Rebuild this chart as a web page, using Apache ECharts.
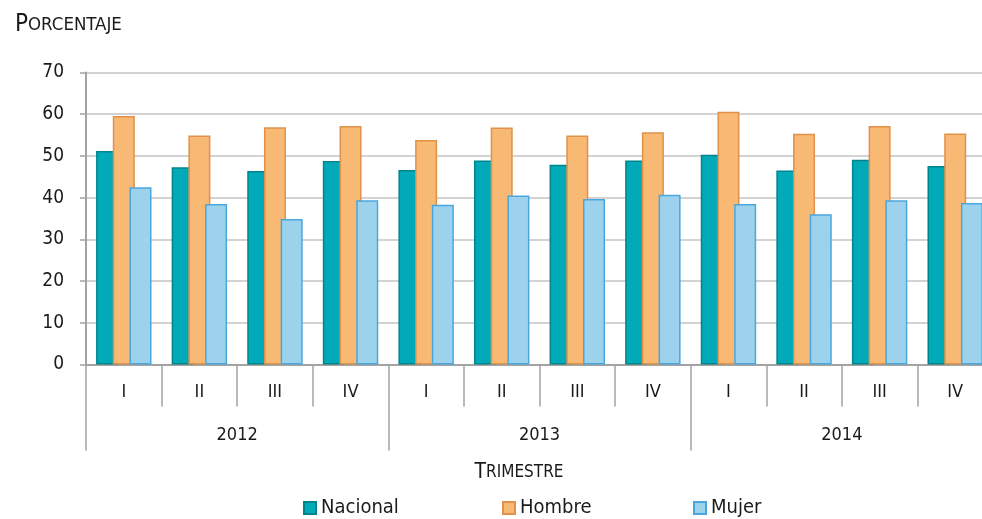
<!DOCTYPE html>
<html>
<head>
<meta charset="utf-8">
<script src="https://cdn.jsdelivr.net/npm/echarts@6/dist/echarts.min.js"></script>
<style>
  html, body { margin: 0; padding: 0; background: #fff; }
  #chart { width: 982px; height: 519px; }
</style>
</head>
<body>
<div id="chart"></div>
<script>
const quarters = ['I', 'II', 'III', 'IV', 'I', 'II', 'III', 'IV', 'I', 'II', 'III', 'IV']
const years = ['2012', '2013', '2014']
const nacional = [51.2, 47.3, 46.4, 48.8, 46.6, 48.9, 47.9, 48.9, 50.3, 46.5, 49.1, 47.6]
const hombre = [59.6, 54.9, 56.9, 57.2, 53.8, 56.8, 54.9, 55.7, 60.6, 55.3, 57.2, 55.4]
const mujer = [42.5, 38.5, 34.9, 39.4, 38.3, 40.5, 39.7, 40.7, 38.5, 36.0, 39.4, 38.7]

const font = "'DejaVu Sans Condensed', 'DejaVu Sans', sans-serif"
const axisGray = '#a3a3a3'
const ink = '#1a1a1a'

const seriesDefs = [
  { name: 'Nacional', data: nacional, fill: '#00aab9', border: '#00858c' },
  { name: 'Hombre', data: hombre, fill: '#f8b975', border: '#e0914a' },
  { name: 'Mujer', data: mujer, fill: '#9cd2ec', border: '#4aa7dd' },
]
const legendLeft = [303, 502, 693]

const chart = echarts.init(document.getElementById('chart'), null, { renderer: 'canvas' })

chart.setOption({
  animation: false,
  textStyle: { fontFamily: font, color: ink },
  title: [
    {
      text: '{a|P}{b|ORCENTAJE}',
      left: 10, top: 8,
      textStyle: {
        fontWeight: 'normal',
        rich: {
          a: { fontSize: 24, fontFamily: font, color: ink, fontWeight: 'normal' },
          b: { fontSize: 18.5, fontFamily: font, color: ink, fontWeight: 'normal' },
        },
      },
    },
    {
      text: '{a|T}{b|RIMESTRE}',
      left: 514, top: 457, textAlign: 'center',
      textStyle: {
        fontWeight: 'normal',
        rich: {
          a: { fontSize: 21, fontFamily: font, color: ink, fontWeight: 'normal' },
          b: { fontSize: 17, fontFamily: font, color: ink, fontWeight: 'normal' },
        },
      },
    },
  ],
  legend: seriesDefs.map((s, i) => ({
    data: [s.name],
    left: legendLeft[i], top: 498,
    padding: 0,
    icon: 'rect',
    itemWidth: 12, itemHeight: 12,
    textStyle: { fontSize: 20, fontFamily: font, color: ink, padding: [5, 0, 0, 0] },
  })),
  grid: { left: 86, top: 72.5, width: 907, bottom: 154.5, outerBoundsMode: 'none' },
  xAxis: [
    {
      type: 'category',
      data: quarters,
      position: 'bottom',
      axisLine: { show: true, lineStyle: { color: axisGray, width: 2 } },
      axisTick: { show: true, interval: 0, length: 42, lineStyle: { color: axisGray, width: 1.5 } },
      axisLabel: { interval: 0, margin: 19, fontSize: 18, color: ink, fontFamily: font },
    },
    {
      type: 'category',
      data: years,
      position: 'bottom',
      axisLine: { show: false },
      axisTick: { show: true, interval: 0, length: 86, lineStyle: { color: axisGray, width: 1.5 } },
      axisLabel: { interval: 0, margin: 62, fontSize: 18, color: ink, fontFamily: font },
    },
  ],
  yAxis: {
    type: 'value',
    min: 0, max: 70, interval: 10,
    axisLine: { show: true, lineStyle: { color: axisGray, width: 2 } },
    axisTick: { show: true, length: 6, lineStyle: { color: axisGray, width: 1.5 } },
    axisLabel: { margin: 22, fontSize: 19, color: ink, fontFamily: font },
    splitLine: { lineStyle: { color: '#d3d3d3', width: 2 } },
  },
  series: seriesDefs.map(s => ({
    name: s.name,
    type: 'bar',
    xAxisIndex: 0,
    data: s.data,
    barWidth: 22,
    barGap: '-24%',
    itemStyle: { color: s.fill, borderColor: s.border, borderWidth: 1.5 },
  })),
})
</script>
</body>
</html>
